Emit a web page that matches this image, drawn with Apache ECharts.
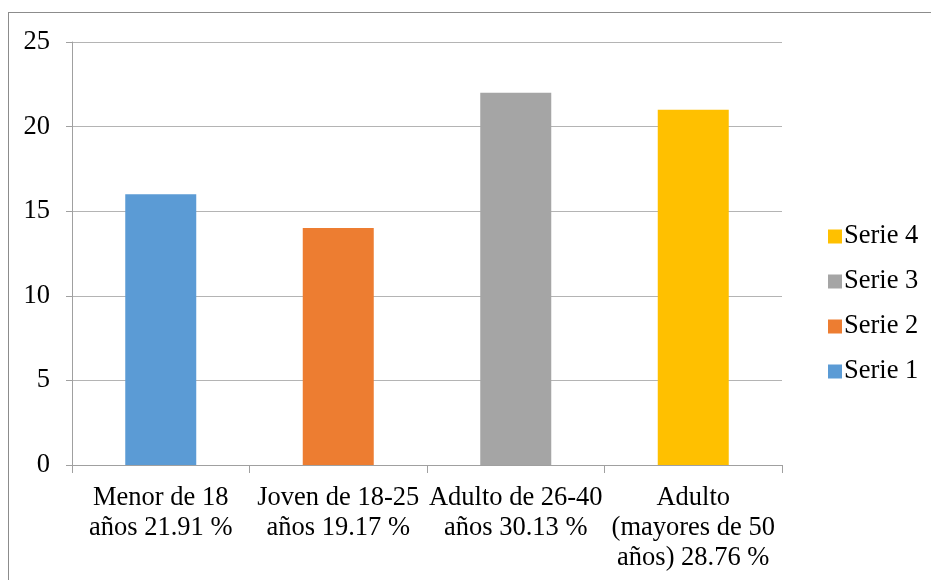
<!DOCTYPE html>
<html>
<head>
<meta charset="utf-8">
<script src="https://cdn.jsdelivr.net/npm/echarts@6/dist/echarts.min.js"></script>
<style>
html,body{margin:0;padding:0;background:#fff;}
#frame{position:absolute;left:8px;top:12px;width:940px;height:600px;border:1px solid #8c8c8c;box-sizing:border-box;}
#chart{position:absolute;left:0;top:0;width:931px;height:580px;}
</style>
</head>
<body>
<div id="frame"></div>
<div id="chart"></div>
<script>
const categories = ['Menor de 18\naños 21.91 %', 'Joven de 18-25\naños 19.17 %', 'Adulto de 26-40\naños 30.13 %', 'Adulto\n(mayores de 50\naños) 28.76 %'];
const seriesNames = ['Serie 1', 'Serie 2', 'Serie 3', 'Serie 4'];
const serie1 = [16, null, null, null];
const serie2 = [null, 14, null, null];
const serie3 = [null, null, 22, null];
const serie4 = [null, null, null, 21];
const colors = ['#5B9BD5', '#ED7D31', '#A5A5A5', '#FFC000'];
const yTicks = {min: 0, max: 25, interval: 5};

const font = 'Liberation Serif';
const fs = 26.5;
const values = [serie1, serie2, serie3, serie4];
const chart = echarts.init(document.getElementById('chart'));
chart.setOption({
  animation: false,
  textStyle: {fontFamily: font},
  grid: {left: 72, right: 149, top: 42, bottom: 115, containLabel: false},
  legend: {
    orient: 'vertical',
    left: 823, top: 218,
    itemWidth: 14, itemHeight: 14, itemGap: 18,
    data: ['Serie 4', 'Serie 3', 'Serie 2', 'Serie 1'],
    textStyle: {fontFamily: font, fontSize: fs, lineHeight: 26, color: '#000', padding: [0,0,0,-3]},
    icon: 'rect'
  },
  xAxis: {
    type: 'category',
    data: categories,
    axisLine: {lineStyle: {color: '#a0a0a0', width: 1}},
    axisTick: {show: true, length: 8, alignWithLabel: false, lineStyle: {color: '#a0a0a0'}},
    axisLabel: {fontFamily: font, fontSize: fs, color: '#000', lineHeight: 30, margin: 18, interval: 0}
  },
  yAxis: {
    type: 'value',
    min: yTicks.min, max: yTicks.max, interval: yTicks.interval,
    axisLine: {show: true, lineStyle: {color: '#a0a0a0', width: 1}},
    axisTick: {show: true, length: 6, inside: false, lineStyle: {color: '#a0a0a0'}},
    splitLine: {lineStyle: {color: '#b4b4b4', width: 1}},
    axisLabel: {fontFamily: font, fontSize: fs, color: '#000', margin: 22}
  },
  series: seriesNames.map((n, i) => ({
    name: n,
    type: 'bar',
    stack: 'all',
    barWidth: 71,
    data: values[i],
    itemStyle: {color: colors[i]}
  }))
});
</script>
</body>
</html>
